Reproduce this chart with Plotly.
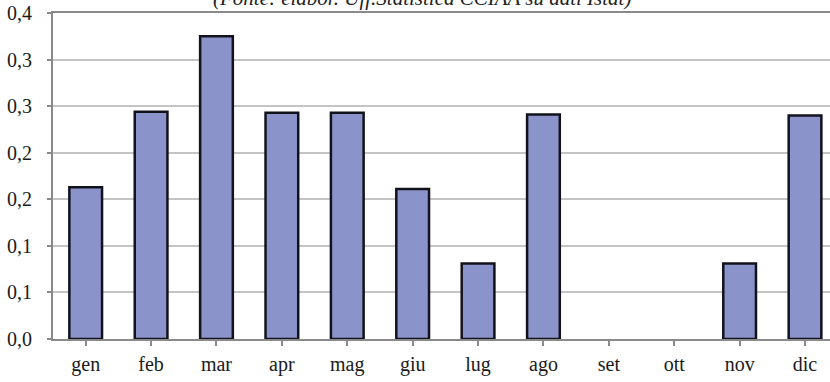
import plotly.graph_objects as go

# Monthly values (share) and labels
months = ["gen", "feb", "mar", "apr", "mag", "giu", "lug", "ago", "set", "ott", "nov", "dic"]
values = [0.163, 0.244, 0.325, 0.243, 0.243, 0.161, 0.081, 0.241, 0.0, 0.0, 0.081, 0.240]

# y ticks every 0.05, shown with one decimal and a comma
tick_vals = [0.0, 0.05, 0.10, 0.15, 0.20, 0.25, 0.30, 0.35]
tick_text = ["0,0", "0,1", "0,1", "0,2", "0,2", "0,3", "0,3", "0,4"]

source_note = "(Fonte: elabor. Uff.Statistica CCIAA su dati Istat)"

serif = "Liberation Serif, Times New Roman, serif"

# empty months get no outline
outline_widths = [2.5 if v > 0 else 0 for v in values]

fig = go.Figure(
    go.Bar(
        x=list(range(len(months))),
        y=values,
        width=0.5,
        marker=dict(color="#8b94ca", line=dict(color="#12121c", width=outline_widths)),
        hoverinfo="skip",
    )
)

fig.update_layout(
    width=830,
    height=382,
    margin=dict(l=53, r=0, t=13, b=43),
    paper_bgcolor="white",
    plot_bgcolor="white",
    showlegend=False,
    font=dict(family=serif, size=20, color="#1a1a1a"),
    annotations=[
        dict(
            text=source_note,
            xref="paper", yref="paper",
            x=(422 - 53) / 777, y=1,
            xanchor="center", yanchor="bottom",
            yshift=1,
            showarrow=False,
            font=dict(family=serif, size=21, color="#222222", style="italic"),
        )
    ],
)

fig.update_xaxes(
    range=[-0.5, 11.382],
    tickmode="array",
    tickvals=list(range(len(months))),
    ticktext=months,
    tickson="boundaries",
    ticks="outside",
    ticklen=5,
    tickwidth=1.5,
    tickcolor="#8a8a8a",
    showline=True,
    linecolor="#8a8a8a",
    linewidth=2,
    mirror=True,
    showgrid=False,
    zeroline=False,
    ticklabelstandoff=1,
    tickfont=dict(family=serif, size=20, color="#1a1a1a"),
)

fig.update_yaxes(
    range=[0, 0.35],
    tickmode="array",
    tickvals=tick_vals,
    ticktext=tick_text,
    ticks="outside",
    ticklen=4,
    tickwidth=1.5,
    tickcolor="#8a8a8a",
    showline=True,
    linecolor="#8a8a8a",
    linewidth=2,
    showgrid=True,
    gridcolor="#c4c4c4",
    gridwidth=1.5,
    zeroline=False,
    ticklabelstandoff=11,
    tickfont=dict(family=serif, size=20, color="#1a1a1a"),
)

fig.write_html("out.html")
